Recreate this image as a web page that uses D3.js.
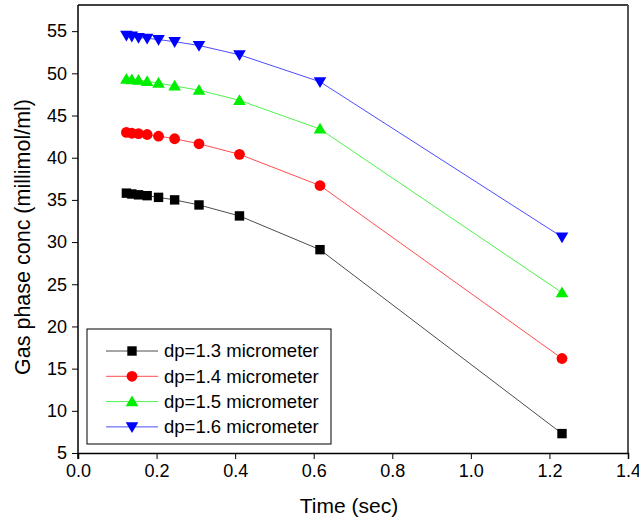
<!DOCTYPE html>
<html>
<head>
<meta charset="utf-8">
<script src="https://cdn.jsdelivr.net/npm/d3@7"></script>
<style>
  body { margin: 0; background: #fff; }
  text { font-family: "Liberation Sans", Arial, sans-serif; fill: #000; }
</style>
</head>
<body>
<div id="chart"></div>
<script>
// time points (sec)
const times = [0.1232, 0.137, 0.154, 0.176, 0.205, 0.246, 0.308, 0.411, 0.616, 1.232];

const dp13 = [35.8, 35.7, 35.6, 35.5, 35.3, 35.0, 34.4, 33.1, 29.1, 7.3];
const dp14 = [43.0, 42.9, 42.85, 42.75, 42.55, 42.25, 41.65, 40.4, 36.7, 16.2];
const dp15 = [49.3, 49.25, 49.2, 49.05, 48.85, 48.5, 48.0, 46.8, 43.4, 24.0];
const dp16 = [54.5, 54.4, 54.25, 54.15, 54.0, 53.75, 53.3, 52.2, 49.0, 30.6];

const seriesNames = ["dp=1.3 micrometer", "dp=1.4 micrometer", "dp=1.5 micrometer", "dp=1.6 micrometer"];
const seriesColors = ["#000000", "#ff0000", "#00ee00", "#0000ff"];
const seriesShapes = ["square", "circle", "triangleUp", "triangleDown"];

const xTicks = [0.0, 0.2, 0.4, 0.6, 0.8, 1.0, 1.2, 1.4];
const yTicks = [5, 10, 15, 20, 25, 30, 35, 40, 45, 50, 55];

const width = 639, height = 521;
const mLeft = 78, mRight = 628, mTop = 5, mBottom = 453;

const svg = d3.select("#chart").append("svg")
    .attr("width", width)
    .attr("height", height);

const x = d3.scaleLinear().domain([0, 1.4]).range([mLeft, mRight]);
const y = d3.scaleLinear().domain([5, 58.1]).range([mBottom, mTop]);

// frame top / right
svg.append("line").attr("x1", mLeft).attr("x2", mRight).attr("y1", mTop).attr("y2", mTop)
    .attr("stroke", "#000").attr("stroke-width", 1.5);
svg.append("line").attr("x1", mRight).attr("x2", mRight).attr("y1", mTop).attr("y2", mBottom)
    .attr("stroke", "#555").attr("stroke-width", 2);

// x axis
const xAxis = svg.append("g").attr("transform", `translate(0,${mBottom})`);
xAxis.call(d3.axisBottom(x).tickValues(d3.range(0, 1.41, 0.1)).tickSize(4).tickFormat(""))
    .call(g => g.select(".domain").remove());
xAxis.call(d3.axisBottom(x).tickValues(xTicks).tickSize(6).tickPadding(5).tickFormat(d3.format(".1f")))
    .call(g => g.select(".domain").attr("stroke-width", 1.5))
    .call(g => g.selectAll("text").attr("font-size", 18).attr("fill", "#000"));

// y axis
const yAxis = svg.append("g").attr("transform", `translate(${mLeft},0)`);
yAxis.call(d3.axisLeft(y).tickValues(d3.range(5, 57.6, 2.5)).tickSize(4).tickFormat(""))
    .call(g => g.select(".domain").remove());
yAxis.call(d3.axisLeft(y).tickValues(yTicks).tickSize(6).tickPadding(5))
    .call(g => g.select(".domain").attr("stroke-width", 1.5).attr("d", `M-0,${mTop}V${mBottom + 6}`))
    .call(g => g.selectAll("text").attr("font-size", 18).attr("fill", "#000"));

// axis titles
svg.append("text")
    .attr("x", (mLeft + mRight) / 2 - 4).attr("y", 513)
    .attr("text-anchor", "middle").attr("font-size", 21)
    .text("Time (sec)");
svg.append("text")
    .attr("transform", `translate(30,${(mTop + mBottom) / 2 + 8}) rotate(-90)`)
    .attr("text-anchor", "middle").attr("font-size", 21.5)
    .text("Gas phase conc (millimol/ml)");

function marker(sel, shape, color) {
    if (shape === "square") {
        sel.append("rect").attr("x", -4.7).attr("y", -4.7).attr("width", 9.4).attr("height", 9.4).attr("fill", color);
    } else if (shape === "circle") {
        sel.append("circle").attr("r", 5.4).attr("fill", color);
    } else if (shape === "triangleUp") {
        sel.append("path").attr("d", "M0,-6.2L6.3,4.6L-6.3,4.6Z").attr("fill", color);
    } else {
        sel.append("path").attr("d", "M0,6.2L6.3,-4.6L-6.3,-4.6Z").attr("fill", color);
    }
}

const allSeries = [dp13, dp14, dp15, dp16];
const line = d3.line().x(d => x(d[0])).y(d => y(d[1]));

allSeries.forEach((vals, i) => {
    const pts = times.map((t, j) => [t, vals[j]]);
    svg.append("path")
        .datum(pts)
        .attr("d", line)
        .attr("fill", "none")
        .attr("stroke", seriesColors[i])
        .attr("stroke-opacity", 0.7)
        .attr("stroke-width", 1);
    svg.append("g").selectAll("g")
        .data(pts)
        .enter().append("g")
        .attr("transform", d => `translate(${x(d[0])},${y(d[1])})`)
        .each(function() { marker(d3.select(this), seriesShapes[i], seriesColors[i]); });
});

// legend
const legend = svg.append("g").attr("transform", "translate(87,329)");
legend.append("rect").attr("width", 244).attr("height", 115)
    .attr("fill", "#fff").attr("stroke", "#000").attr("stroke-width", 1);
seriesNames.forEach((name, i) => {
    const row = legend.append("g").attr("transform", `translate(0,${22 + i * 25.3})`);
    row.append("line").attr("x1", 19).attr("x2", 71).attr("stroke", seriesColors[i])
        .attr("stroke-opacity", 0.7).attr("stroke-width", 1);
    marker(row.append("g").attr("transform", "translate(45,0)"), seriesShapes[i], seriesColors[i]);
    row.append("text").attr("x", 77).attr("dy", "0.35em").attr("font-size", 18.5).text(name);
});
</script>
</body>
</html>
